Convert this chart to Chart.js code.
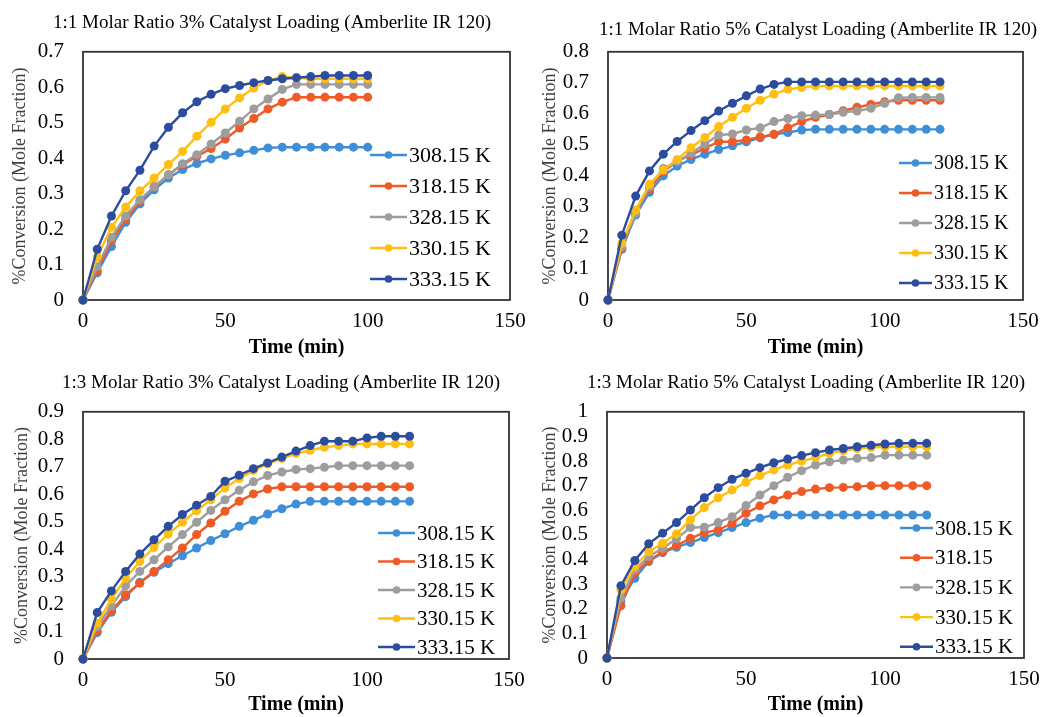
<!DOCTYPE html>
<html>
<head>
<meta charset="utf-8">
<script src="https://cdn.jsdelivr.net/npm/chart.js@4.4.1/dist/chart.umd.min.js"></script>
<style>
html,body{margin:0;padding:0;background:#fff;overflow:hidden;width:1049px;height:717px;}
canvas{position:absolute;}
</style>
</head>
<body>
<canvas id="Grafica1"></canvas>
<canvas id="Grafica2"></canvas>
<canvas id="Grafica3"></canvas>
<canvas id="Grafica4"></canvas>
<script>
// temperaturas (leyenda) y colores de serie
var etiquetas = ['308.15 K', '318.15 K', '328.15 K', '330.15 K', '333.15 K'];
var etiquetas4 = ['308.15 K', '318.15', '328.15 K', '330.15 K', '333.15 K'];
var colores = ['#3F8FD6', '#EF5A26', '#9D9D9D', '#FFBF12', '#2C4D9D'];

// 1:1 Molar Ratio 3%
var tiempo1 = [0,5,10,15,20,25,30,35,40,45,50,55,60,65,70,75,80,85,90,95,100];
var t308_1 = [0,0.077,0.151,0.219,0.271,0.311,0.344,0.368,0.385,0.398,0.408,0.415,0.422,0.429,0.431,0.431,0.431,0.431,0.431,0.431,0.431];
var t318_1 = [0,0.083,0.167,0.228,0.278,0.320,0.353,0.382,0.405,0.427,0.454,0.485,0.512,0.539,0.558,0.572,0.572,0.572,0.572,0.572,0.572];
var t328_1 = [0,0.094,0.177,0.237,0.283,0.319,0.353,0.384,0.410,0.440,0.471,0.504,0.539,0.567,0.594,0.608,0.608,0.608,0.608,0.608,0.608];
var t330_1 = [0,0.122,0.205,0.262,0.308,0.344,0.382,0.419,0.462,0.501,0.539,0.570,0.598,0.619,0.630,0.627,0.624,0.624,0.624,0.624,0.624];
var t333_1 = [0,0.143,0.237,0.308,0.366,0.434,0.487,0.528,0.559,0.580,0.596,0.605,0.613,0.619,0.624,0.627,0.630,0.633,0.633,0.633,0.633];

// 1:1 Molar Ratio 5%
var tiempo2 = [0,5,10,15,20,25,30,35,40,45,50,55,60,65,70,75,80,85,90,95,100,105,110,115,120];
var t308_2 = [0,0.163,0.274,0.347,0.400,0.432,0.453,0.470,0.485,0.497,0.510,0.523,0.534,0.540,0.548,0.550,0.550,0.550,0.550,0.550,0.550,0.550,0.550,0.550,0.550];
var t318_2 = [0,0.166,0.281,0.357,0.414,0.448,0.467,0.489,0.510,0.510,0.516,0.526,0.534,0.555,0.575,0.589,0.598,0.610,0.621,0.630,0.639,0.644,0.644,0.644,0.644];
var t328_2 = [0,0.172,0.279,0.365,0.424,0.446,0.473,0.502,0.532,0.535,0.548,0.555,0.575,0.585,0.594,0.596,0.598,0.605,0.609,0.618,0.634,0.652,0.653,0.653,0.653];
var t330_2 = [0,0.183,0.290,0.373,0.419,0.453,0.491,0.524,0.559,0.589,0.618,0.644,0.664,0.679,0.685,0.690,0.690,0.690,0.690,0.690,0.690,0.690,0.690,0.690,0.690];
var t333_2 = [0,0.209,0.335,0.416,0.470,0.511,0.546,0.578,0.609,0.634,0.658,0.680,0.695,0.703,0.703,0.703,0.703,0.703,0.703,0.703,0.703,0.703,0.703,0.703,0.703];

// 1:3 Molar Ratio 3%
var tiempo3 = [0,5,10,15,20,25,30,35,40,45,50,55,60,65,70,75,80,85,90,95,100,105,110,115];
var t308_3 = [0,0.096,0.170,0.227,0.279,0.316,0.347,0.376,0.404,0.431,0.456,0.483,0.505,0.528,0.547,0.564,0.574,0.574,0.574,0.574,0.574,0.574,0.574,0.574];
var t318_3 = [0,0.103,0.176,0.234,0.276,0.319,0.361,0.404,0.453,0.495,0.538,0.574,0.601,0.619,0.627,0.627,0.627,0.627,0.627,0.627,0.627,0.627,0.627,0.627];
var t328_3 = [0,0.118,0.193,0.266,0.319,0.361,0.408,0.453,0.498,0.541,0.580,0.614,0.645,0.668,0.681,0.690,0.693,0.698,0.704,0.704,0.704,0.704,0.704,0.704];
var t330_3 = [0,0.130,0.218,0.294,0.355,0.406,0.455,0.498,0.540,0.580,0.623,0.657,0.686,0.710,0.730,0.748,0.760,0.771,0.777,0.783,0.783,0.783,0.783,0.783];
var t333_3 = [0,0.169,0.248,0.319,0.382,0.434,0.483,0.526,0.560,0.592,0.647,0.669,0.693,0.714,0.735,0.757,0.777,0.793,0.793,0.793,0.805,0.811,0.811,0.811];

// 1:3 Molar Ratio 5%
var tiempo4 = [0,5,10,15,20,25,30,35,40,45,50,55,60,65,70,75,80,85,90,95,100,105,110,115];
var t308_4 = [0,0.230,0.324,0.392,0.428,0.450,0.469,0.489,0.509,0.530,0.550,0.568,0.581,0.581,0.581,0.581,0.581,0.581,0.581,0.581,0.581,0.581,0.581,0.581];
var t318_4 = [0,0.212,0.345,0.396,0.430,0.457,0.486,0.509,0.520,0.547,0.588,0.618,0.642,0.662,0.676,0.686,0.692,0.693,0.696,0.700,0.700,0.700,0.700,0.700];
var t328_4 = [0,0.243,0.358,0.412,0.446,0.484,0.530,0.531,0.550,0.574,0.619,0.662,0.700,0.734,0.761,0.784,0.797,0.804,0.811,0.814,0.824,0.824,0.824,0.824];
var t330_4 = [0,0.277,0.372,0.432,0.466,0.504,0.561,0.611,0.651,0.682,0.714,0.741,0.764,0.784,0.800,0.814,0.831,0.842,0.851,0.855,0.858,0.858,0.858,0.858];
var t333_4 = [0,0.293,0.396,0.464,0.507,0.550,0.601,0.651,0.692,0.726,0.750,0.773,0.793,0.808,0.822,0.834,0.845,0.851,0.858,0.864,0.869,0.872,0.872,0.872];

var fuente = '"Liberation Serif", "Times New Roman", serif';

// marco negro alrededor del area de la grafica
var Marco = {
    id: 'marco',
    beforeDatasetsDraw: function (chart) {
        var a = chart.chartArea;
        var ctx = chart.ctx;
        ctx.save();
        ctx.strokeStyle = '#333';
        ctx.lineWidth = 1.8;
        ctx.strokeRect(a.left, a.top, a.right - a.left, a.bottom - a.top);
        ctx.restore();
    }
};

// leyenda dentro del area de la grafica, como en Excel
var LeyendaInterna = {
    id: 'leyendaInterna',
    afterDatasetsDraw: function (chart, args, opts) {
        var ctx = chart.ctx;
        ctx.save();
        ctx.font = opts.size + 'px ' + fuente;
        ctx.textBaseline = 'middle';
        chart.data.datasets.forEach(function (ds, i) {
            var y = opts.y + i * opts.gap;
            ctx.strokeStyle = ds.borderColor;
            ctx.lineWidth = 2.4;
            ctx.beginPath();
            ctx.moveTo(opts.x, y);
            ctx.lineTo(opts.x + opts.largo, y);
            ctx.stroke();
            ctx.fillStyle = ds.backgroundColor;
            ctx.beginPath();
            ctx.arc(opts.x + opts.largo / 2, y, 3.8, 0, Math.PI * 2);
            ctx.fill();
            ctx.fillStyle = '#000';
            ctx.fillText(ds.label, opts.x + opts.largo + 2, y + 1);
        });
        ctx.restore();
    }
};

function Grafica(id, pos, tiempo, series, nombres, yMax, titulo, leyenda) {
    var canvas = document.getElementById(id);
    canvas.width = pos.w;
    canvas.height = pos.h;
    canvas.style.left = pos.left + 'px';
    canvas.style.top = pos.top + 'px';
    var datasets = series.map(function (s, i) {
        return {
            label: nombres[i],
            data: s.map(function (v, j) { return {x: tiempo[j], y: v}; }),
            borderColor: colores[i],
            backgroundColor: colores[i],
            borderWidth: 2.4,
            pointRadius: 4.5,
            pointHoverRadius: 4.5,
            pointBorderWidth: 0,
            tension: 0,
            clip: false,
            order: 5 - i
        };
    });
    new Chart(canvas, {
        type: 'line',
        data: {datasets: datasets},
        options: {
            responsive: false,
            animation: false,
            events: [],
            layout: {padding: 0},
            plugins: {
                legend: {display: false},
                tooltip: {enabled: false},
                title: {
                    display: true,
                    text: titulo,
                    color: '#000',
                    font: {family: fuente, size: 19, weight: 'normal'},
                    padding: {top: pos.tTop, bottom: pos.tBot}
                },
                leyendaInterna: leyenda
            },
            scales: {
                x: {
                    type: 'linear',
                    min: 0,
                    max: 150,
                    ticks: {stepSize: 50, color: '#000', font: {family: fuente, size: 21}, padding: 9, maxRotation: 0},
                    grid: {display: false, drawTicks: false},
                    border: {display: false},
                    title: {display: true, text: 'Time (min)', color: '#000', font: {family: fuente, size: 20, weight: 'bold'}, padding: {top: 0, bottom: 0}},
                    afterFit: function (s) { s.height = pos.ejeX; }
                },
                y: {
                    type: 'linear',
                    min: 0,
                    max: yMax,
                    ticks: {
                        stepSize: 0.1,
                        autoSkip: false,
                        color: '#000',
                        font: {family: fuente, size: 21},
                        padding: 19,
                        callback: function (v) { return String(Number(v.toFixed(1))); }
                    },
                    grid: {display: false, drawTicks: false},
                    border: {display: false},
                    title: {display: true, text: '%Conversion (Mole Fraction)', color: '#404040', font: {family: fuente, size: 18}, padding: {top: 9, bottom: 0}},
                    afterFit: function (s) { s.width = pos.ejeY; }
                },
                relleno: {
                    type: 'linear',
                    position: 'right',
                    ticks: {display: false},
                    grid: {display: false, drawTicks: false},
                    border: {display: false},
                    afterFit: function (s) { s.width = pos.derecha; }
                }
            }
        },
        plugins: [Marco, LeyendaInterna]
    });
}

Grafica('Grafica1', {left: 0, top: 0, w: 544, h: 360, ejeY: 83, ejeX: 60, derecha: 34, tTop: 12, tBot: 17},
    tiempo1, [t308_1, t318_1, t328_1, t330_1, t333_1], etiquetas, 0.7,
    '1:1 Molar Ratio 3% Catalyst Loading (Amberlite IR 120)',
    {x: 370, y: 155, gap: 31, largo: 37, size: 22});

Grafica('Grafica2', {left: 530, top: 0, w: 576, h: 360, ejeY: 78, ejeX: 60, derecha: 83, tTop: 19, tBot: 10},
    tiempo2, [t308_2, t318_2, t328_2, t330_2, t333_2], etiquetas, 0.8,
    '1:1 Molar Ratio 5% Catalyst Loading (Amberlite IR 120)',
    {x: 369, y: 163, gap: 30, largo: 33, size: 20});

Grafica('Grafica3', {left: 2, top: 358, w: 558, h: 359, ejeY: 81, ejeX: 58, derecha: 51, tTop: 14, tBot: 17},
    tiempo3, [t308_3, t318_3, t328_3, t330_3, t333_3], etiquetas, 0.9,
    '1:3 Molar Ratio 3% Catalyst Loading (Amberlite IR 120)',
    {x: 376, y: 175, gap: 28.5, largo: 37, size: 21});

Grafica('Grafica4', {left: 530, top: 358, w: 552, h: 359, ejeY: 77, ejeX: 59, derecha: 58, tTop: 14, tBot: 17},
    tiempo4, [t308_4, t318_4, t328_4, t330_4, t333_4], etiquetas4, 1,
    '1:3 Molar Ratio 5% Catalyst Loading (Amberlite IR 120)',
    {x: 370, y: 170, gap: 29.7, largo: 33, size: 21});
</script>
</body>
</html>
